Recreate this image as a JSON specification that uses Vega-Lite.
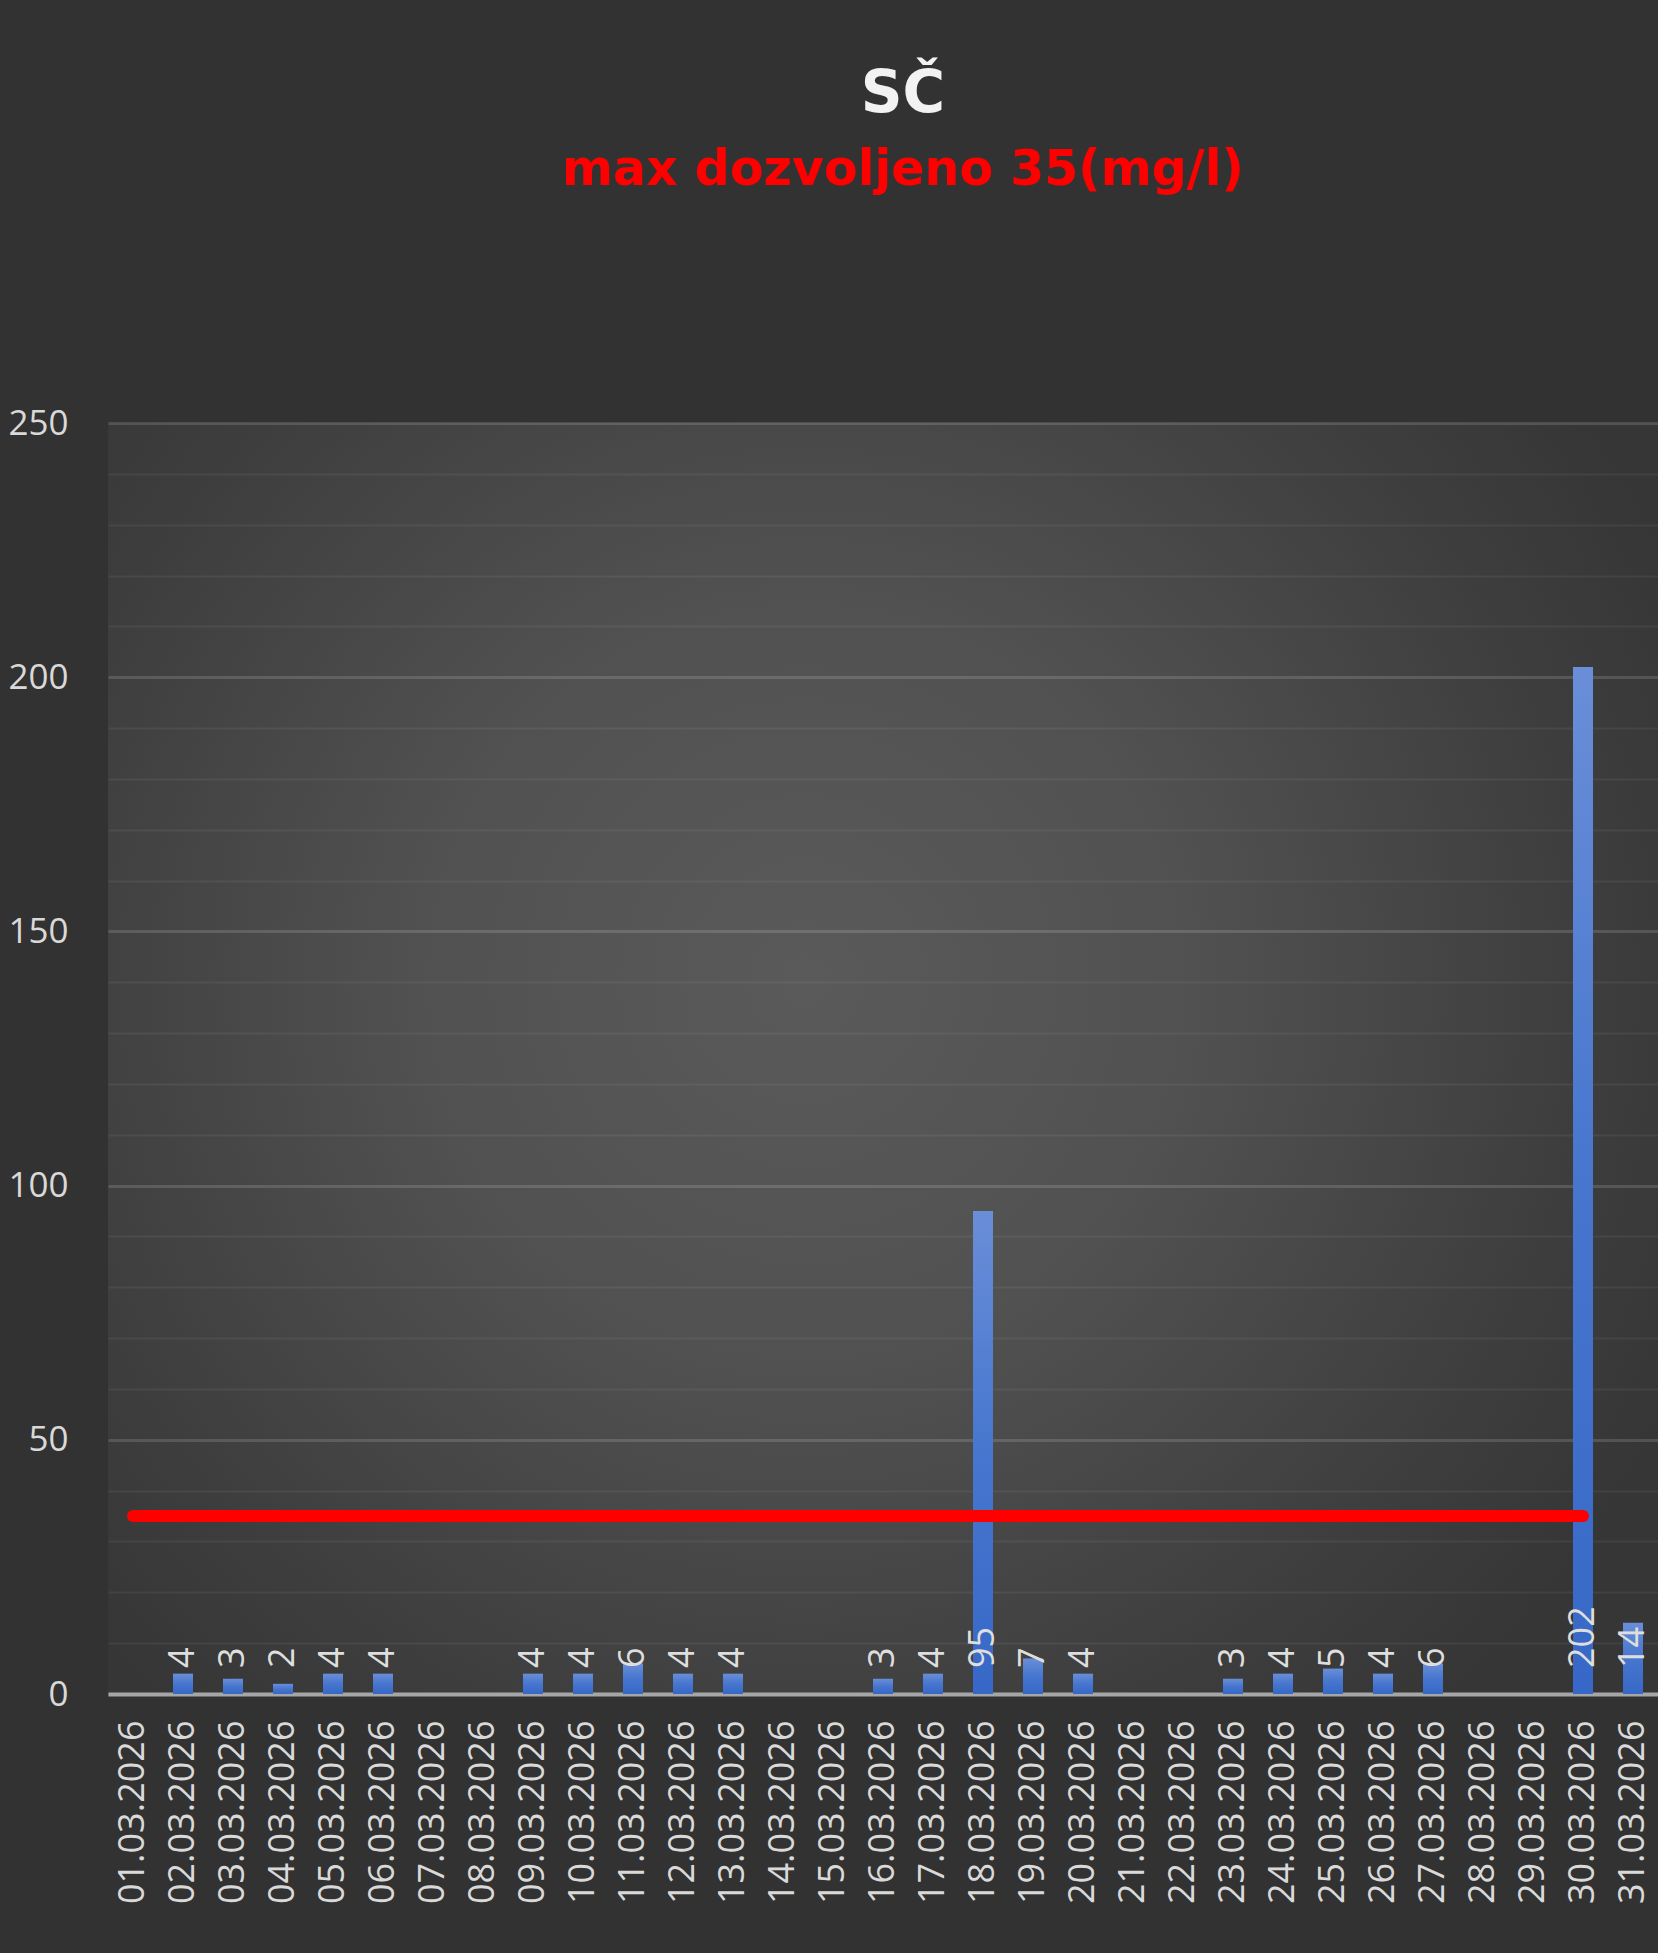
{
  "$schema": "https://vega.github.io/schema/vega-lite/v6.json",
  "autosize": "none",
  "width": 1550,
  "height": 1271,
  "padding": {"left": 108, "top": 423, "right": 0, "bottom": 259},
  "background": "#323232",
  "title": {
    "text": "SČ",
    "subtitle": "max dozvoljeno 35(mg/l)",
    "anchor": "middle",
    "frame": "group",
    "dx": 20,
    "offset": 211,
    "font": "DejaVu Sans",
    "fontSize": 58,
    "fontWeight": "bold",
    "color": "#f2f2f2",
    "subtitleFont": "DejaVu Sans",
    "subtitleFontSize": 49,
    "subtitleFontWeight": "bold",
    "subtitleColor": "#ff0000",
    "subtitlePadding": 22
  },
  "config": {
    "view": {
      "stroke": null,
      "fill": {
        "gradient": "radial",
        "x1": 0.45, "y1": 0.45, "r1": 0,
        "x2": 0.45, "y2": 0.45, "r2": 0.62,
        "stops": [
          {"offset": 0, "color": "#5a5a5a"},
          {"offset": 0.4, "color": "#515151"},
          {"offset": 0.8, "color": "#3e3e3e"},
          {"offset": 1, "color": "#363636"}
        ]
      }
    }
  },
  "datasets": {
    "sc": [
      {"d": "01.03.2026", "v": null},
      {"d": "02.03.2026", "v": 4},
      {"d": "03.03.2026", "v": 3},
      {"d": "04.03.2026", "v": 2},
      {"d": "05.03.2026", "v": 4},
      {"d": "06.03.2026", "v": 4},
      {"d": "07.03.2026", "v": null},
      {"d": "08.03.2026", "v": null},
      {"d": "09.03.2026", "v": 4},
      {"d": "10.03.2026", "v": 4},
      {"d": "11.03.2026", "v": 6},
      {"d": "12.03.2026", "v": 4},
      {"d": "13.03.2026", "v": 4},
      {"d": "14.03.2026", "v": null},
      {"d": "15.03.2026", "v": null},
      {"d": "16.03.2026", "v": 3},
      {"d": "17.03.2026", "v": 4},
      {"d": "18.03.2026", "v": 95},
      {"d": "19.03.2026", "v": 7},
      {"d": "20.03.2026", "v": 4},
      {"d": "21.03.2026", "v": null},
      {"d": "22.03.2026", "v": null},
      {"d": "23.03.2026", "v": 3},
      {"d": "24.03.2026", "v": 4},
      {"d": "25.03.2026", "v": 5},
      {"d": "26.03.2026", "v": 4},
      {"d": "27.03.2026", "v": 6},
      {"d": "28.03.2026", "v": null},
      {"d": "29.03.2026", "v": null},
      {"d": "30.03.2026", "v": 202},
      {"d": "31.03.2026", "v": 14}
    ],
    "limit": [
      {"d": "01.03.2026", "v": 35},
      {"d": "02.03.2026", "v": 35},
      {"d": "03.03.2026", "v": 35},
      {"d": "04.03.2026", "v": 35},
      {"d": "05.03.2026", "v": 35},
      {"d": "06.03.2026", "v": 35},
      {"d": "07.03.2026", "v": 35},
      {"d": "08.03.2026", "v": 35},
      {"d": "09.03.2026", "v": 35},
      {"d": "10.03.2026", "v": 35},
      {"d": "11.03.2026", "v": 35},
      {"d": "12.03.2026", "v": 35},
      {"d": "13.03.2026", "v": 35},
      {"d": "14.03.2026", "v": 35},
      {"d": "15.03.2026", "v": 35},
      {"d": "16.03.2026", "v": 35},
      {"d": "17.03.2026", "v": 35},
      {"d": "18.03.2026", "v": 35},
      {"d": "19.03.2026", "v": 35},
      {"d": "20.03.2026", "v": 35},
      {"d": "21.03.2026", "v": 35},
      {"d": "22.03.2026", "v": 35},
      {"d": "23.03.2026", "v": 35},
      {"d": "24.03.2026", "v": 35},
      {"d": "25.03.2026", "v": 35},
      {"d": "26.03.2026", "v": 35},
      {"d": "27.03.2026", "v": 35},
      {"d": "28.03.2026", "v": 35},
      {"d": "29.03.2026", "v": 35},
      {"d": "30.03.2026", "v": 35}
    ]
  },
  "encoding": {
    "x": {
      "field": "d",
      "type": "ordinal",
      "sort": null,
      "scale": {
        "domain": ["01.03.2026","02.03.2026","03.03.2026","04.03.2026","05.03.2026","06.03.2026","07.03.2026","08.03.2026","09.03.2026","10.03.2026","11.03.2026","12.03.2026","13.03.2026","14.03.2026","15.03.2026","16.03.2026","17.03.2026","18.03.2026","19.03.2026","20.03.2026","21.03.2026","22.03.2026","23.03.2026","24.03.2026","25.03.2026","26.03.2026","27.03.2026","28.03.2026","29.03.2026","30.03.2026","31.03.2026"],
        "paddingInner": 0.6,
        "paddingOuter": 0.3
      },
      "axis": {
        "title": null,
        "labelAngle": 270,
        "labelFont": "Open Sans",
        "labelFontSize": 36,
        "labelColor": "#d9d9d9",
        "labelPadding": 26,
        "labelLimit": 0,
        "labelOverlap": false,
        "ticks": false,
        "tickSize": 0,
        "domainColor": "#a6a6a6",
        "domainWidth": 4,
        "grid": false
      }
    }
  },
  "layer": [
    {
      "data": {"name": "sc"},
      "transform": [{"filter": "datum.v != null"}],
      "mark": {
        "type": "bar",
        "color": {
          "gradient": "linear",
          "x1": 0, "y1": 0, "x2": 0, "y2": 1,
          "stops": [
            {"offset": 0, "color": "#6a8ed8"},
            {"offset": 0.5, "color": "#4676ce"},
            {"offset": 1, "color": "#3768c7"}
          ]
        }
      },
      "encoding": {
        "y": {
          "field": "v",
          "type": "quantitative",
          "scale": {"domain": [0, 250], "nice": false},
          "axis": {
            "title": null,
            "values": [0,10,20,30,40,50,60,70,80,90,100,110,120,130,140,150,160,170,180,190,200,210,220,230,240,250],
            "labelExpr": "datum.value % 50 === 0 ? datum.label : ''",
            "labelFont": "Open Sans",
            "labelFontSize": 35,
            "labelColor": "#d9d9d9",
            "labelPadding": 40,
            "ticks": false,
            "tickSize": 0,
            "domain": false,
            "grid": true,
            "gridColor": "#ffffff",
            "gridOpacity": {"condition": {"test": "datum.value % 50 === 0", "value": 0.14}, "value": 0.06},
            "gridWidth": {"condition": {"test": "datum.value % 50 === 0", "value": 3}, "value": 2}
          }
        }
      }
    },
    {
      "data": {"name": "limit"},
      "mark": {"type": "line", "color": "#ff0000", "strokeWidth": 12, "strokeCap": "round"},
      "encoding": {
        "y": {"field": "v", "type": "quantitative"}
      }
    },
    {
      "data": {"name": "sc"},
      "transform": [{"filter": "datum.v != null"}],
      "mark": {
        "type": "text",
        "angle": 270,
        "align": "left",
        "baseline": "middle",
        "dx": 26,
        "font": "Open Sans",
        "fontSize": 36,
        "color": "#dedede"
      },
      "encoding": {
        "y": {"datum": 0, "type": "quantitative"},
        "text": {"field": "v", "type": "quantitative"}
      }
    }
  ]
}
